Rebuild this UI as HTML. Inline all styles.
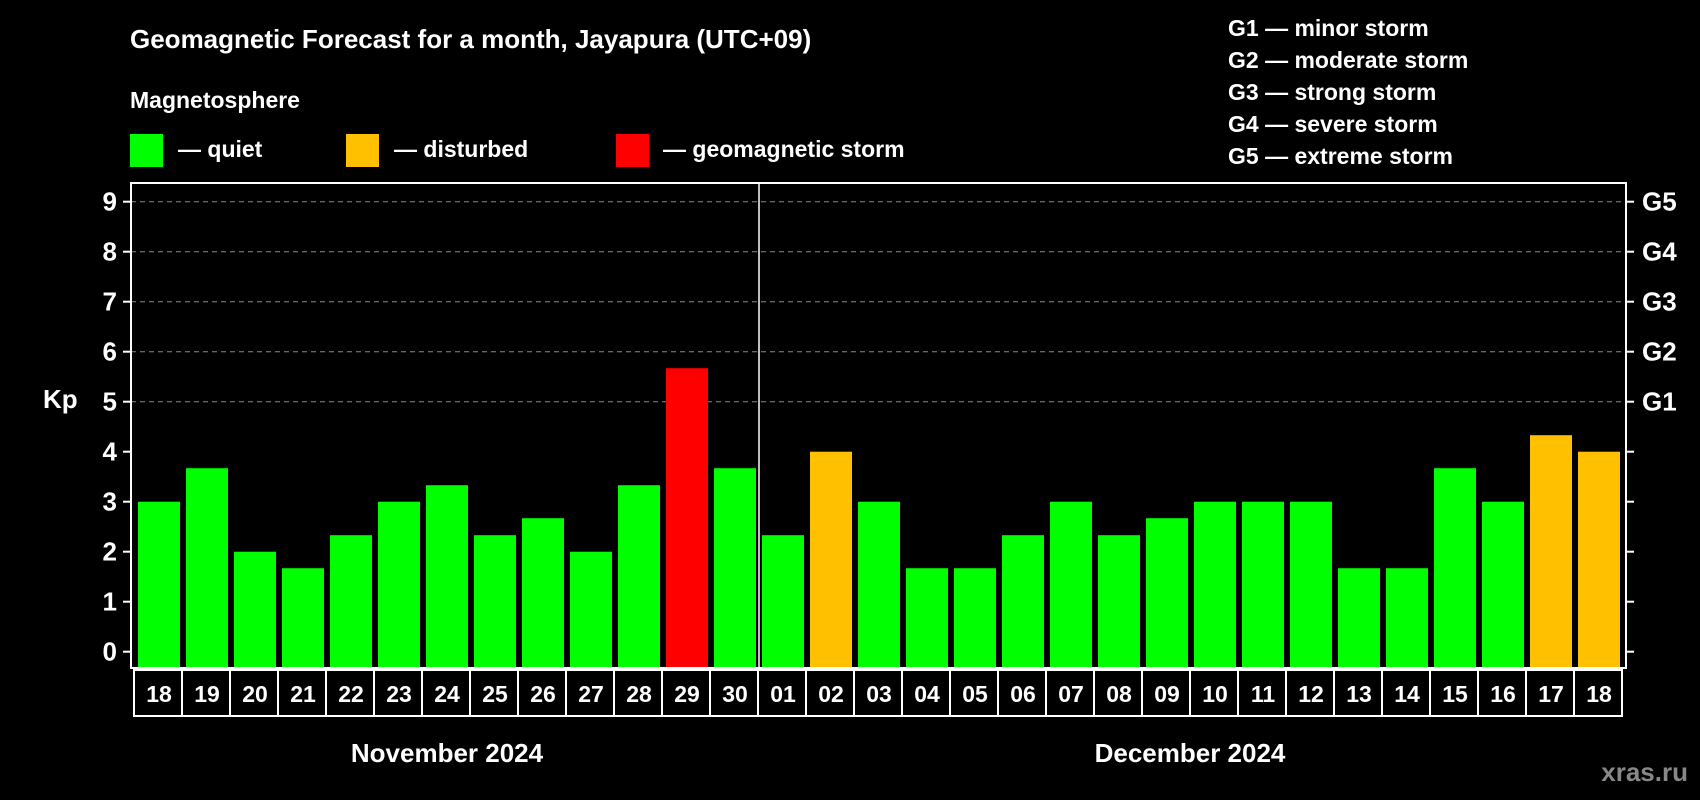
<!DOCTYPE html>
<html><head><meta charset="utf-8"><style>
body{margin:0;background:#000;}
svg{display:block;font-family:"Liberation Sans",Arial,sans-serif;font-weight:bold;}
</style></head><body>
<svg id="c" width="1700" height="800" viewBox="0 0 1700 800">
<rect width="1700" height="800" fill="#000"/>
<text x="130" y="48" font-size="26" fill="#fff">Geomagnetic Forecast for a month, Jayapura (UTC+09)</text>
<text x="130" y="108" font-size="23" fill="#fff">Magnetosphere</text>
<rect x="130" y="134" width="33" height="33" fill="#00ff00"/>
<text x="178" y="157" font-size="23" fill="#fff">— quiet</text>
<rect x="346" y="134" width="33" height="33" fill="#ffc000"/>
<text x="394" y="157" font-size="23" fill="#fff">— disturbed</text>
<rect x="616" y="134" width="33" height="33" fill="#ff0000"/>
<text x="663" y="157" font-size="23" fill="#fff">— geomagnetic storm</text>
<g font-size="23" fill="#fff">
<text x="1228" y="36">G1 — minor storm</text>
<text x="1228" y="68">G2 — moderate storm</text>
<text x="1228" y="100">G3 — strong storm</text>
<text x="1228" y="132">G4 — severe storm</text>
<text x="1228" y="164">G5 — extreme storm</text>
</g>
<text x="43" y="408" font-size="26" fill="#fff">Kp</text>
<text x="447" y="762" font-size="26" fill="#fff" text-anchor="middle">November 2024</text>
<text x="1190" y="762" font-size="26" fill="#fff" text-anchor="middle">December 2024</text>
<text x="1688" y="781" font-size="26" fill="#888" text-anchor="end">xras.ru</text>
<g id="grid"></g><g id="bars"></g><g id="axes"></g>
</svg>
<script>
const days=["18","19","20","21","22","23","24","25","26","27","28","29","30","01","02","03","04","05","06","07","08","09","10","11","12","13","14","15","16","17","18"];
const kpValues=[3,3.67,2,1.67,2.33,3,3.33,2.33,2.67,2,3.33,5.67,3.67,2.33,4,3,1.67,1.67,2.33,3,2.33,2.67,3,3,3,1.67,1.67,3.67,3,4.33,4];
const yTicks=[0,1,2,3,4,5,6,7,8,9];
const gLabels=["G1","G2","G3","G4","G5"];
const NS="http://www.w3.org/2000/svg";
const L=131,R=1626,T=183,B=668,y0=651.7,unit=50,x0=138,pitch=48,bw=42;
const y=v=>y0-v*unit;
const x=i=>x0+i*pitch;
function mk(tag,at,parent){const e=document.createElementNS(NS,tag);for(const k in at)e.setAttribute(k,at[k]);document.getElementById(parent).appendChild(e);return e;}
yTicks.forEach(v=>{
  if(v>=5){const g=mk('line',{x1:L,x2:R,y1:y(v),y2:y(v),stroke:'#888','stroke-width':1,'stroke-dasharray':'5,4'},'grid');
  
  }
  const t=mk('line',{x1:L-8,x2:L,y1:y(v),y2:y(v),stroke:'#fff','stroke-width':2},'axes');
  
  
  const t2=mk('line',{x1:R,x2:R+8,y1:y(v),y2:y(v),stroke:'#fff','stroke-width':2},'axes');
  
  
  const lb=mk('text',{x:L-14,y:y(v)+9,'font-size':26,fill:'#fff','text-anchor':'end'},'axes');
  lb.textContent=v;
  
  
});
gLabels.forEach((g,i)=>{
  const lb=mk('text',{x:R+16,y:y(i+5)+9,'font-size':26,fill:'#fff'},'axes');
  lb.textContent=g;
  
  
});
kpValues.forEach((v,i)=>{
  const col=v>=5?'#ff0000':(v>=4?'#ffc000':'#00ff00');
  const b=mk('rect',{x:x(i),y:y(v),width:bw,height:B-y(v),fill:col},'bars');
  
  
  const bx=mk('rect',{x:x(i)-4,y:670,width:pitch,height:46,fill:'none',stroke:'#fff','stroke-width':2},'axes');
  
  
  const t=mk('text',{x:x(i)+bw/2,y:702,'font-size':23,fill:'#fff','text-anchor':'middle'},'axes');
  t.textContent=days[i];
  
  
});
const fr=mk('rect',{x:L,y:T,width:R-L,height:B-T,fill:'none',stroke:'#fff','stroke-width':2},'axes');


const dv=mk('line',{x1:x(13)-3,x2:x(13)-3,y1:T,y2:B,stroke:'#fff','stroke-width':1.5},'axes');


</script>
</body></html>
